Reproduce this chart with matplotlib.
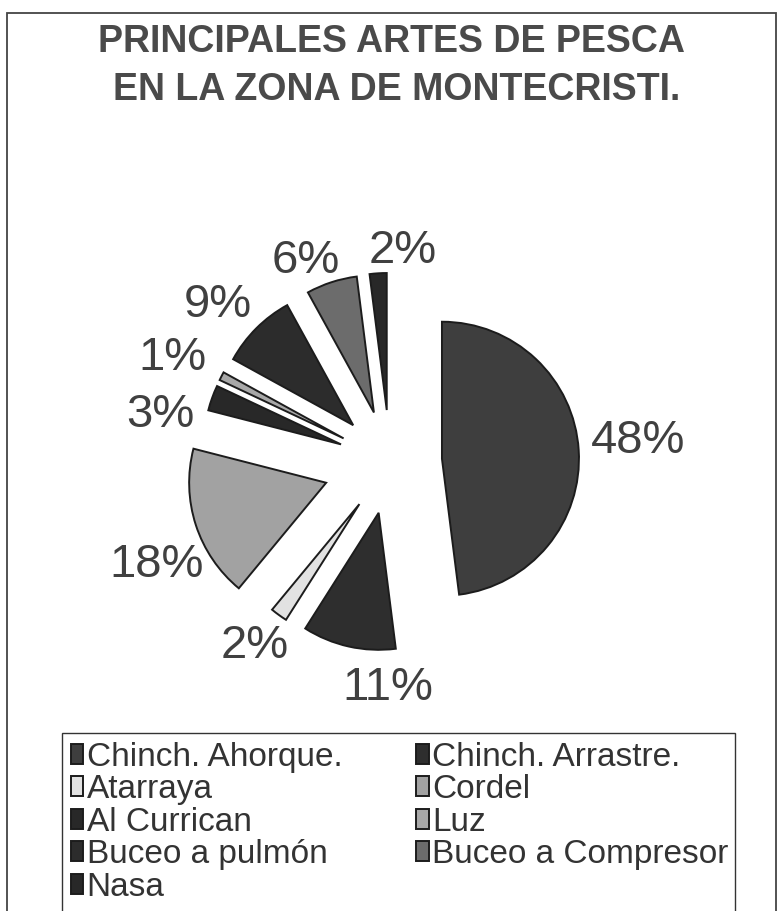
import matplotlib
matplotlib.use('Agg')
import matplotlib.pyplot as plt
import numpy as np
from matplotlib.patches import Rectangle

plt.rcParams['font.family'] = ['Liberation Sans', 'DejaVu Sans']

# ---------------- data ----------------
categories = ['Chinch. Ahorque.', 'Chinch. Arrastre.', 'Atarraya', 'Cordel',
              'Al Currican', 'Luz', 'Buceo a pulmón', 'Buceo a Compresor', 'Nasa']
values = [48, 11, 2, 18, 3, 1, 9, 6, 2]
title_lines = ['PRINCIPALES ARTES DE PESCA', 'EN LA ZONA DE MONTECRISTI.']

# ---------------- style / layout ----------------
colors = ['#3e3e3e', '#2e2e2e', '#e2e2e2', '#a2a2a2', '#282828',
          '#a8a8a8', '#2c2c2c', '#6c6c6c', '#282828']
explode = [0.38, 0.38, 0.38, 0.49, 0.38, 0.38, 0.38, 0.38, 0.38]
label_r = [1.811, 1.737, 1.737, 1.897, 1.698, 1.727, 1.642, 1.510, 1.456]
label_ang = [2.1, -90.5, -124.6, -153.7, 171.3, 157.1, 139.9, 114.0, 86.3]

W, H = 780, 911
R_PX = 137.0
CX, CY = 390.0, 462.0

fig = plt.figure(figsize=(W / 100, H / 100), dpi=100)
fig.patch.set_facecolor('white')

ax = fig.add_axes([0, 0, 1, 1])
wedges, _ = ax.pie(values, explode=explode, colors=colors, startangle=90,
                   counterclock=False, radius=1,
                   wedgeprops=dict(edgecolor='#1c1c1c', linewidth=1.4))
ax.set_xlim(-CX / R_PX, (W - CX) / R_PX)
ax.set_ylim(-(H - CY) / R_PX, CY / R_PX)
ax.set_aspect('auto')
ax.axis('off')

for v, r, a in zip(values, label_r, label_ang):
    t = np.deg2rad(a)
    ax.text(r * np.cos(t), r * np.sin(t), f'{v}%', ha='center', va='baseline',
            fontsize=34, color='#404040')

# title
fig.text(391 / W, 1 - 52 / H, title_lines[0], ha='center', va='baseline',
         fontsize=27, fontweight='bold', color='#4a4a4a')
fig.text(397 / W, 1 - 100 / H, title_lines[1], ha='center', va='baseline',
         fontsize=27, fontweight='bold', color='#4a4a4a')

# legend (row-wise order in 2 columns)
order = list(range(0, len(values), 2)) + list(range(1, len(values), 2))
leg = fig.legend([wedges[i] for i in order], [categories[i] for i in order],
                 loc='upper left', ncol=2, mode='expand',
                 bbox_to_anchor=(64 / W, 0, (735 - 64) / W, 1 - 735 / H),
                 fontsize=24, frameon=False,
                 handlelength=0.38, handleheight=0.55, handletextpad=0.1,
                 labelspacing=0.045, borderaxespad=0, borderpad=0.2,
                 columnspacing=1.0)
for t in leg.get_texts():
    t.set_color('#333333')

# legend box (continues past the bottom edge, as in the reference)
fig.patches.append(Rectangle((62 / W, -0.05), (735 - 62) / W, 1 - 733 / H + 0.05,
                             transform=fig.transFigure, fill=False,
                             edgecolor='#333333', linewidth=1.0))

# outer frame
fig.patches.append(Rectangle((7 / W, -0.05), (776 - 7) / W, 1 - 13 / H + 0.05,
                             transform=fig.transFigure, fill=False,
                             edgecolor='#444444', linewidth=1.3))

fig.savefig('out.png', dpi=100, facecolor='white')
